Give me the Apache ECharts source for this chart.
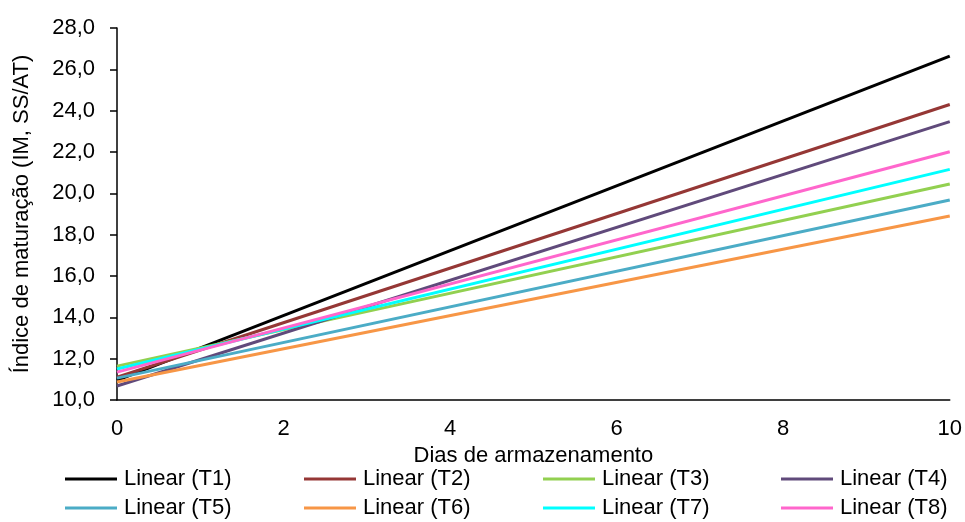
<!DOCTYPE html>
<html>
<head>
<meta charset="utf-8">
<script src="https://cdn.jsdelivr.net/npm/echarts@6/dist/echarts.min.js"></script>
<style>
  html, body { margin: 0; padding: 0; background: #fff; }
  #chart { width: 965px; height: 522px; }
</style>
</head>
<body>
<div id="chart"></div>
<script>
// Trend lines of the maturation index over storage days (start and end of each fit)
const days = [0, 10];
const T1 = [10.95, 26.64];
const T2 = [11.10, 24.30];
const T3 = [11.64, 20.45];
const T4 = [10.68, 23.47];
const T5 = [11.06, 19.68];
const T6 = [10.87, 18.90];
const T7 = [11.50, 21.16];
const T8 = [11.35, 22.01];

const seriesNames = ['Linear (T1)', 'Linear (T2)', 'Linear (T3)', 'Linear (T4)',
                     'Linear (T5)', 'Linear (T6)', 'Linear (T7)', 'Linear (T8)'];
const seriesValues = [T1, T2, T3, T4, T5, T6, T7, T8];
const colors = ['#000000', '#953735', '#92D050', '#604A7B',
                '#4BACC6', '#F79646', '#00FFFF', '#FF66CC'];

const FONT = 'Liberation Sans, Arial, sans-serif';
const FS = 22;

const series = seriesNames.map((name, i) => ({
  name: name,
  type: 'line',
  symbol: 'none',
  data: days.map((d, j) => [d, seriesValues[i][j]]),
  lineStyle: { color: colors[i], width: 3 },
  itemStyle: { color: colors[i] },
  animation: false
}));

// legend laid out as a 4 x 2 grid
const colLeft = [65, 304, 543, 781];
const rowTop = [468, 497];
const legends = seriesNames.map((name, i) => ({
  data: [name],
  left: colLeft[i % 4],
  top: rowTop[Math.floor(i / 4)],
  icon: 'rect',
  itemWidth: 52,
  itemHeight: 3,
  itemGap: 0,
  padding: 0,
  textStyle: { fontFamily: FONT, fontSize: FS, color: '#000', padding: [0, 0, 0, 2] }
}));

const chart = echarts.init(document.getElementById('chart'), null, { renderer: 'canvas' });
chart.setOption({
  backgroundColor: '#fff',
  animation: false,
  grid: { left: 117, right: 15, top: 28, bottom: 122, containLabel: false },
  legend: legends,
  xAxis: {
    type: 'value',
    min: 0, max: 10, interval: 2,
    name: 'Dias de armazenamento',
    nameLocation: 'middle',
    nameGap: 39,
    nameTextStyle: { fontFamily: FONT, fontSize: FS, color: '#000' },
    axisLine: { show: true, lineStyle: { color: '#000', width: 1.5 } },
    axisTick: { show: false },
    splitLine: { show: false },
    axisLabel: { fontFamily: FONT, fontSize: FS, color: '#000', margin: 18 }
  },
  yAxis: {
    type: 'value',
    min: 10, max: 28, interval: 2,
    name: 'Índice de maturação (IM, SS/AT)',
    nameLocation: 'middle',
    nameGap: 84,
    nameRotate: 90,
    nameTextStyle: { fontFamily: FONT, fontSize: FS, color: '#000' },
    axisLine: { show: true, lineStyle: { color: '#000', width: 1.5 } },
    axisTick: { show: true, inside: false, length: 7, lineStyle: { color: '#000', width: 1.5 } },
    splitLine: { show: false },
    axisLabel: {
      fontFamily: FONT, fontSize: FS, color: '#000', margin: 22,
      formatter: v => v.toFixed(1).replace('.', ',')
    }
  },
  series: series
});
</script>
</body>
</html>
